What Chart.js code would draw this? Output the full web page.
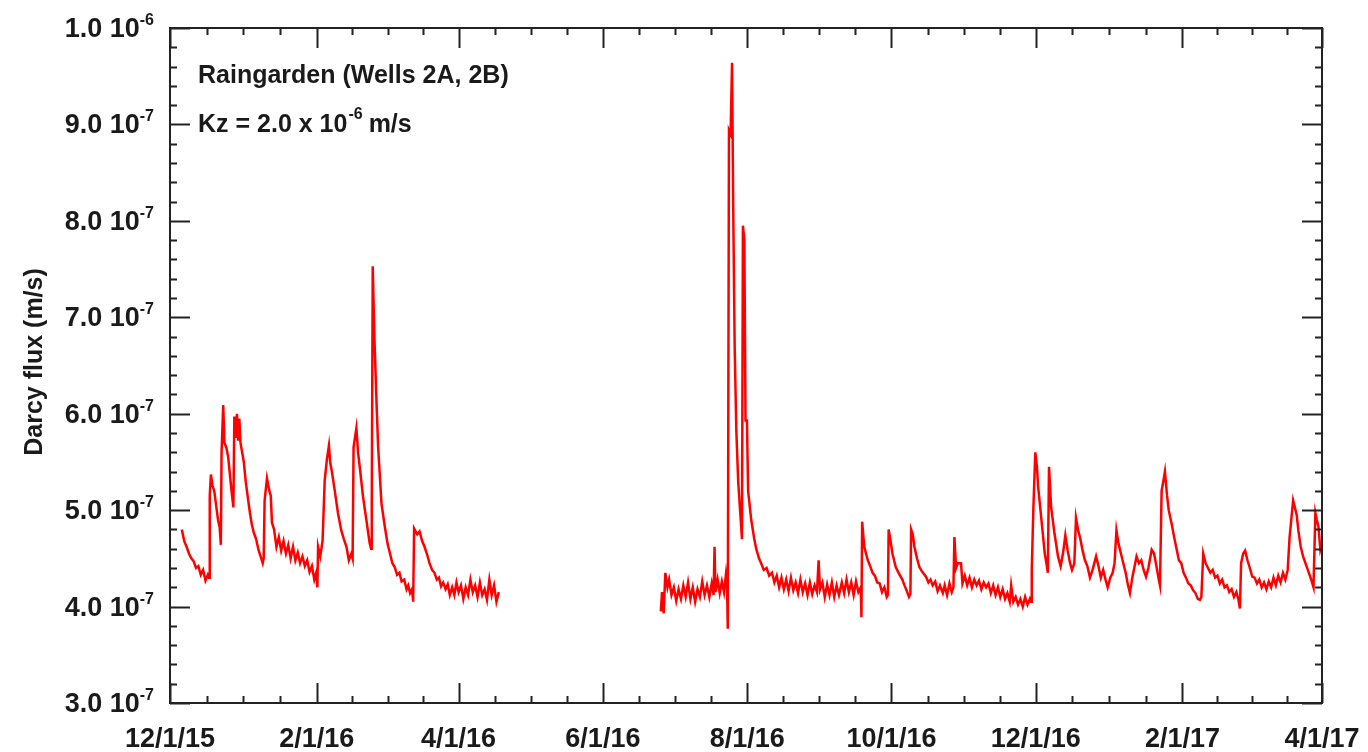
<!DOCTYPE html>
<html>
<head>
<meta charset="utf-8">
<script src="https://cdn.jsdelivr.net/npm/chart.js@4/dist/chart.umd.min.js"></script>
<style>
  html, body { margin: 0; padding: 0; background: #fff; }
  #wrap { width: 1368px; height: 752px; }
</style>
</head>
<body>
<div id="wrap"><canvas id="graficoFlux" width="1368" height="752"></canvas></div>
<script>
// dias desde 12/1/15, fluxo em unidades de 1e-7 m/s
const days1 = [5,6,7,8,9,10,11,12,13,14,15,16,16.5,16.8,17.3,18,18.7,19.5,20.3,21,21.5,21.8,22.5,23,23.8,24.6,25.4,26.1,26.8,27.2,27.8,28.3,28.8,29.3,29.8,30.5,31.2,32,32.8,33.8,34.6,35.5,36.4,37.4,38.3,39.2,39.6,40,41,42,42.6,43.1,44,45,46,47,48,49,50,51,52,53,54,55,56,57,58,59,60,61,61.8,62.3,62.6,63.5,64.5,65.4,66.3,67.2,67.8,68.3,69.6,71,72.4,73.5,74.6,75.6,76.7,77.2,77.6,78.8,79.5,80.2,81.6,83,84.4,85,85.3,85.7,86.4,87.4,88,89.4,90.8,92,92.9,94,95,96,97,97.9,99,100,100.7,101.5,102.3,102.8,103.2,104.5,105.5,106.6,107.6,108.7,109.7,110.8,111.8,112.8,113.7,114.6,115.5,116.5,117.4,118.3,119.3,120.2,121.1,122,123,124,125,126,127,128,129,130,131,132,133,134,135,136,137,138,139];
const flux1 = [4.80,4.68,4.62,4.55,4.50,4.47,4.40,4.42,4.33,4.38,4.27,4.33,4.30,5.15,5.37,5.25,5.20,5.05,4.90,4.82,4.64,5.60,6.09,5.70,5.65,5.55,5.35,5.18,5.03,5.97,5.75,6.00,5.72,5.95,5.70,5.60,5.50,5.30,5.15,4.97,4.85,4.76,4.70,4.59,4.52,4.45,4.50,5.10,5.33,5.20,5.15,4.87,4.80,4.62,4.72,4.58,4.68,4.55,4.64,4.50,4.62,4.48,4.56,4.45,4.52,4.42,4.48,4.36,4.42,4.28,4.35,4.20,4.62,4.52,4.68,5.31,5.52,5.67,5.48,5.42,5.21,4.97,4.79,4.70,4.62,4.48,4.55,4.50,5.65,5.85,5.60,5.45,5.14,4.90,4.66,4.60,5.07,7.53,6.80,6.05,5.65,5.07,4.83,4.65,4.56,4.45,4.41,4.33,4.35,4.26,4.28,4.18,4.22,4.14,4.18,4.05,4.81,4.75,4.78,4.68,4.62,4.54,4.45,4.38,4.35,4.28,4.30,4.21,4.25,4.18,4.23,4.12,4.20,4.12,4.25,4.15,4.22,4.08,4.20,4.12,4.28,4.15,4.22,4.10,4.25,4.12,4.18,4.07,4.28,4.12,4.22,4.05,4.15];

const days2 = [207.5,208,208.7,209.4,210.3,211,212,213,214,215,216,217,218,219,220,221,222,223,224,225,226,227,228,229,229.8,230.2,230.6,231.5,232.4,233.3,234.2,235,235.5,235.8,236.3,237,237.6,238.1,238.7,239.4,240.2,241,241.8,242.2,242.8,243.3,243.9,244.4,245.7,247,247.8,249,249.9,251,252.2,253.3,254.5,255.5,256.5,257.5,258.5,259.5,260.5,261.5,262.5,263.5,264.5,265.5,266.5,267.5,268.5,269.5,270.5,271.5,272.5,273.5,274.2,274.8,275.8,276.8,277.8,278.8,279.8,280.8,281.8,282.8,284,285,286,287,288,289,290,291,292,292.3,292.6,293.5,295,296,297,298,299,300,301,302,303,303.5,303.8,304.5,305.4,306.8,308,309.6,310.5,311.5,312.4,313,313.3,314,314.7,315.8,316.8,318,319.6,320.6,321.5,322.4,323.5,324.5,325.5,326.7,327.5,328.5,329.5,330.5,331.2,331.6,332.3,333,334.4,335,336,337,338,339,340,341,342,343,344,345,346,347,348,349,350,351,352,353,354,355,355.6,356.5,357.5,358.5,359.5,360.5,361.5,362.5,363.5,364,364.3,365,365.8,366.5,367,368.4,369.8,370.5,371.1,371.6,372.5,373.9,375.4,376.5,377.5,378.5,379.5,380.5,381.3,382.3,383,384,384.7,385.8,386.8,387.8,388.9,390,391.5,392.5,393.5,394.5,395.5,396.4,397.5,398.5,399.3,400.1,401,402,403,404,405,405.8,406.8,407.8,408.6,409.6,410.6,411.6,412.6,413.6,415,416,417,418,418.5,419.2,420,420.6,421.5,422.2,423.5,424.5,425.5,426.5,427.5,428.5,429.5,430.5,431.5,432.5,433.5,434.5,435.4,436,436.8,437.8,438.8,439.8,440.8,441.8,442.8,443.8,444.8,445.8,446.8,447.8,448.8,449.8,450.8,451.6,452.3,452.8,453.7,454.5,455.5,456.5,457.5,458.5,459.5,460.5,461.5,462.5,463.5,464.5,465.5,466.5,467.5,468.5,469.5,470.5,471.5,472.5,473.3,474.8,475.5,476.3,477,478,479,480,481,482,482.8,483.4,484.2,484.8,485.5,486.3,487];
const flux2 = [3.95,4.15,3.93,4.35,4.20,4.28,4.12,4.20,4.06,4.18,4.08,4.22,4.10,4.25,4.08,4.20,4.05,4.18,4.10,4.26,4.12,4.22,4.10,4.24,4.12,4.62,4.15,4.28,4.14,4.26,4.15,4.33,4.20,3.77,8.94,8.90,9.64,8.13,6.71,5.83,5.30,5.00,4.70,7.95,7.80,5.93,5.93,5.20,4.90,4.70,4.60,4.50,4.45,4.38,4.40,4.32,4.35,4.25,4.32,4.20,4.30,4.18,4.28,4.16,4.30,4.17,4.25,4.14,4.28,4.15,4.24,4.12,4.25,4.13,4.22,4.15,4.48,4.18,4.25,4.10,4.23,4.12,4.25,4.10,4.22,4.12,4.25,4.14,4.28,4.15,4.25,4.12,4.26,4.15,4.20,3.89,4.88,4.62,4.48,4.42,4.35,4.32,4.25,4.24,4.15,4.20,4.10,4.12,4.80,4.70,4.55,4.41,4.35,4.28,4.22,4.16,4.10,4.13,4.80,4.75,4.62,4.50,4.41,4.36,4.31,4.25,4.28,4.22,4.26,4.16,4.22,4.14,4.22,4.12,4.24,4.15,4.20,4.72,4.40,4.45,4.45,4.24,4.32,4.22,4.30,4.20,4.28,4.22,4.27,4.18,4.25,4.20,4.24,4.14,4.22,4.12,4.20,4.10,4.18,4.08,4.14,4.05,4.22,4.05,4.10,4.02,4.08,4.00,4.10,4.02,4.08,4.05,4.38,5.03,5.60,5.45,5.24,4.90,4.55,4.45,4.35,5.45,5.03,4.76,4.52,4.42,4.55,4.74,4.58,4.45,4.38,4.45,4.92,4.78,4.72,4.58,4.48,4.42,4.30,4.38,4.52,4.42,4.30,4.38,4.28,4.20,4.30,4.35,4.45,4.79,4.65,4.55,4.45,4.35,4.22,4.14,4.30,4.42,4.52,4.45,4.48,4.38,4.31,4.40,4.59,4.55,4.42,4.28,4.22,5.20,5.31,5.40,5.15,5.00,4.85,4.72,4.60,4.48,4.45,4.35,4.30,4.24,4.22,4.17,4.14,4.08,4.07,4.10,4.55,4.45,4.40,4.35,4.38,4.30,4.32,4.24,4.28,4.20,4.22,4.15,4.18,4.10,4.15,4.08,3.98,4.45,4.55,4.58,4.48,4.40,4.31,4.30,4.24,4.28,4.20,4.25,4.18,4.26,4.20,4.30,4.22,4.32,4.25,4.35,4.28,4.38,4.72,5.10,5.03,4.95,4.79,4.62,4.52,4.45,4.38,4.31,4.25,4.20,4.97,4.90,4.83,4.59,4.65];

// eixos
const xTickDays = [0, 62, 122, 183, 244, 305, 366, 428, 487];
const xTickLabels = ['12/1/15', '2/1/16', '4/1/16', '6/1/16', '8/1/16', '10/1/16', '12/1/16', '2/1/17', '4/1/17'];
const yTickValues = [3, 4, 5, 6, 7, 8, 9, 10];
const yTickMantissa = ['3.0', '4.0', '5.0', '6.0', '7.0', '8.0', '9.0', '1.0'];
const yTickExponent = ['-7', '-7', '-7', '-7', '-7', '-7', '-7', '-6'];

function toPoints(xs, ys) {
    return xs.map((d, i) => ({ x: d, y: ys[i] }));
}

const FONT = '"Liberation Sans", Arial, Helvetica, sans-serif';

// moldura, ticks e rótulos desenhados à mão (estilo KaleidaGraph)
const framePlugin = {
    id: 'frame',
    afterDraw(chart) {
        const ctx = chart.ctx;
        const xs = chart.scales.x;
        const ys = chart.scales.y;
        const a = chart.chartArea;
        const major = 20, minor = 7;

        ctx.save();
        ctx.strokeStyle = '#222';
        ctx.lineWidth = 2;
        ctx.strokeRect(a.left, a.top, a.right - a.left, a.bottom - a.top);

        ctx.beginPath();
        // x ticks
        xTickDays.forEach((d, i) => {
            const px = Math.round(xs.getPixelForValue(d)) + 0.5;
            ctx.moveTo(px, a.bottom); ctx.lineTo(px, a.bottom - major);
            ctx.moveTo(px, a.top); ctx.lineTo(px, a.top + major);
            if (i < xTickDays.length - 1) {
                const step = (xTickDays[i + 1] - d) / 4;
                for (let k = 1; k < 4; k++) {
                    const mx = Math.round(xs.getPixelForValue(d + step * k)) + 0.5;
                    ctx.moveTo(mx, a.bottom); ctx.lineTo(mx, a.bottom - minor);
                    ctx.moveTo(mx, a.top); ctx.lineTo(mx, a.top + minor);
                }
            }
        });
        // y ticks
        yTickValues.forEach((v, i) => {
            const py = Math.round(ys.getPixelForValue(v)) + 0.5;
            ctx.moveTo(a.left, py); ctx.lineTo(a.left + major, py);
            ctx.moveTo(a.right, py); ctx.lineTo(a.right - major, py);
            if (i < yTickValues.length - 1) {
                for (let k = 1; k < 5; k++) {
                    const my = Math.round(ys.getPixelForValue(v + 0.2 * k)) + 0.5;
                    ctx.moveTo(a.left, my); ctx.lineTo(a.left + minor, my);
                    ctx.moveTo(a.right, my); ctx.lineTo(a.right - minor, my);
                }
            }
        });
        ctx.stroke();

        ctx.fillStyle = '#1a1a1a';
        // rótulos do eixo x
        ctx.font = 'bold 27px ' + FONT;
        ctx.textAlign = 'center';
        ctx.textBaseline = 'alphabetic';
        xTickDays.forEach((d, i) => {
            ctx.fillText(xTickLabels[i], xs.getPixelForValue(d), 747);
        });

        // rótulos do eixo y com expoente
        yTickValues.forEach((v, i) => {
            const py = ys.getPixelForValue(v);
            ctx.font = 'bold 16px ' + FONT;
            const ew = ctx.measureText(yTickExponent[i]).width;
            const right = a.left - 16;
            ctx.textAlign = 'left';
            ctx.fillText(yTickExponent[i], right - ew, py - 3);
            ctx.font = 'bold 27px ' + FONT;
            ctx.textAlign = 'right';
            ctx.fillText(yTickMantissa[i] + ' 10', right - ew, py + 9);
        });

        // título do eixo y
        ctx.save();
        ctx.translate(42, 362);
        ctx.rotate(-Math.PI / 2);
        ctx.textAlign = 'center';
        ctx.font = 'bold 25px ' + FONT;
        ctx.fillText('Darcy flux (m/s)', 0, 0);
        ctx.restore();

        // anotações
        ctx.textAlign = 'left';
        ctx.font = 'bold 25px ' + FONT;
        ctx.fillText('Raingarden (Wells 2A, 2B)', 198, 83);
        let tx = 198;
        const s1 = 'Kz = 2.0 x 10';
        ctx.fillText(s1, tx, 132);
        tx += ctx.measureText(s1).width + 1;
        ctx.font = 'bold 16px ' + FONT;
        ctx.fillText('-6', tx, 119);
        tx += ctx.measureText('-6').width + 6;
        ctx.font = 'bold 25px ' + FONT;
        ctx.fillText('m/s', tx, 132);
        ctx.restore();
    }
};

const lineStyle = {
    borderColor: '#ff0000',
    borderWidth: 2.5,
    pointRadius: 0,
    tension: 0,
    fill: false
};

new Chart(document.getElementById('graficoFlux').getContext('2d'), {
    type: 'line',
    data: {
        datasets: [
            Object.assign({ label: 'Flux 1', data: toPoints(days1, flux1) }, lineStyle),
            Object.assign({ label: 'Flux 2', data: toPoints(days2, flux2) }, lineStyle)
        ]
    },
    options: {
        responsive: false,
        animation: false,
        layout: { padding: { left: 170, right: 46, top: 28, bottom: 49 } },
        plugins: { legend: { display: false }, tooltip: { enabled: false } },
        scales: {
            x: { type: 'linear', min: 0, max: 487, display: false },
            y: { min: 3, max: 10, display: false }
        }
    },
    plugins: [framePlugin]
});
</script>
</body>
</html>
